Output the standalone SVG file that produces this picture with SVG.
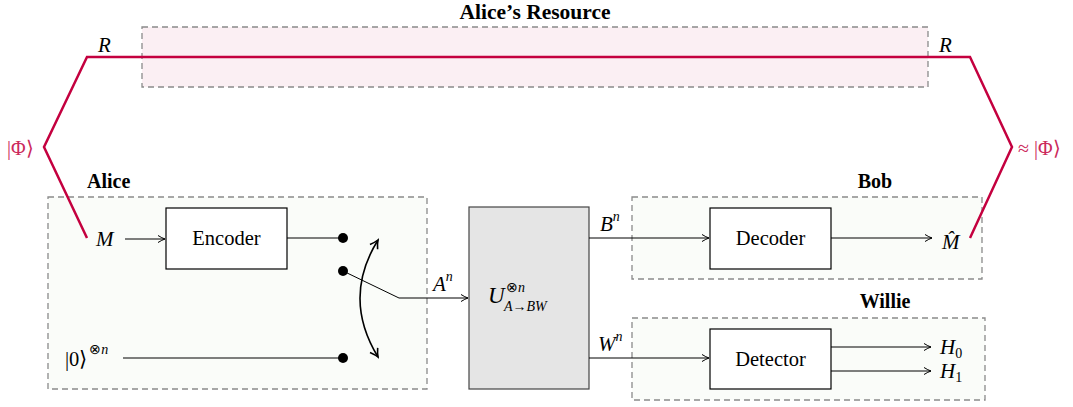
<svg xmlns="http://www.w3.org/2000/svg" width="1073" height="407" viewBox="0 0 1073 407" font-family="Liberation Serif, serif">
<style>
.reg{fill:#fafcf9;stroke:#8a8a8a;stroke-width:1.3;stroke-dasharray:6,4}
.res{fill:#fbeff3;stroke:#8a8a8a;stroke-width:1.3;stroke-dasharray:6,4}
.blk{fill:#fff;stroke:#000;stroke-width:1.2}
.uni{fill:#e5e5e5;stroke:#444;stroke-width:1.2}
.t{font-size:20.5px;fill:#000}
.b{font-size:20px;font-weight:bold;fill:#000}
.m{font-size:21px;font-style:italic;fill:#000}
.s{font-size:14px}
.up{font-style:normal}
.red{font-size:20px;fill:#cc2a5c}
.ln{fill:none;stroke:#000;stroke-width:1}
.ent{fill:none;stroke:#c4003f;stroke-width:2.5;stroke-linejoin:miter}
</style>
<defs>
<marker id="ar" viewBox="0 0 10 10" refX="9" refY="5" markerWidth="10" markerHeight="10" markerUnits="userSpaceOnUse" orient="auto">
<path d="M2,1.5 Q6,4 9,5 Q6,6 2,8.5" fill="none" stroke="#000" stroke-width="1"/>
</marker>
<marker id="ar2" viewBox="0 0 12 12" refX="10" refY="6" markerWidth="12" markerHeight="12" markerUnits="userSpaceOnUse" orient="auto-start-reverse">
<path d="M2,1.5 Q7,5 10,6 Q7,7 2,10.5" fill="none" stroke="#000" stroke-width="1.6"/>
</marker>
</defs>

<g id="alices-resource">
<rect class="res" x="142" y="27" width="786" height="60"/>
<text class="b" x="535" y="19" text-anchor="middle" style="font-size:21.5px">Alice’s Resource</text>
</g>

<g id="alice">
<rect class="reg" x="48" y="197" width="379" height="192"/>
<text class="b" x="87" y="188">Alice</text>
<text class="m" x="96" y="246">M</text>
<text class="t" x="65" y="366">|0⟩<tspan class="s" dx="2" dy="-12">⊗</tspan><tspan class="s" font-style="italic">n</tspan></text>
</g>

<g id="encoder">
<rect class="blk" x="166" y="208" width="121" height="61"/>
<text class="t" x="226.5" y="245" text-anchor="middle">Encoder</text>
</g>

<g id="switch">
<circle cx="343" cy="238" r="5" fill="#000"/>
<circle cx="343" cy="271" r="5" fill="#000"/>
<circle cx="343" cy="358" r="5" fill="#000"/>
</g>

<g id="unitary">
<rect class="uni" x="469" y="207" width="120" height="182"/>
<text class="m" x="488" y="303" style="font-size:23px">U</text>
<text class="s" x="506" y="292">⊗<tspan font-style="italic">n</tspan></text>
<text class="s" x="504" y="311" font-style="italic">A→BW</text>
</g>

<g id="bob">
<rect class="reg" x="632" y="197" width="350" height="82"/>
<text class="b" x="875" y="188" text-anchor="middle">Bob</text>
<text class="m" x="942" y="249">M̂</text>
</g>

<g id="decoder">
<rect class="blk" x="710" y="208" width="121" height="61"/>
<text class="t" x="770.5" y="245" text-anchor="middle">Decoder</text>
</g>

<g id="willie">
<rect class="reg" x="632" y="318" width="353" height="82"/>
<text class="b" x="885" y="308" text-anchor="middle">Willie</text>
<text class="m" x="940" y="354">H<tspan class="s up" dy="4">0</tspan></text>
<text class="m" x="940" y="378">H<tspan class="s up" dy="4">1</tspan></text>
</g>

<g id="detector">
<rect class="blk" x="710" y="329" width="121" height="60"/>
<text class="t" x="770.5" y="366" text-anchor="middle">Detector</text>
</g>

<g id="entanglement">
<polyline class="ent" points="87,238 44,147 87,57 970,57 1012,147 970,238"/>
<text class="m" x="98" y="52">R</text>
<text class="m" x="939" y="52">R</text>
<text class="red" x="7" y="155">|Φ⟩</text>
<text class="red" x="1018" y="155">≈ |Φ⟩</text>
</g>

<g id="connectors">
<line class="ln" x1="125" y1="239" x2="165" y2="239" marker-end="url(#ar)"/>
<line class="ln" x1="287" y1="238" x2="343" y2="238"/>
<line class="ln" x1="123" y1="358" x2="343" y2="358"/>
<polyline class="ln" points="343,271 399,298 468,298" marker-end="url(#ar)"/>
<text class="m" x="433" y="291">A<tspan class="s" dy="-10">n</tspan></text>
<path d="M378,240 Q342,298 378,357" fill="none" stroke="#000" stroke-width="1.6" marker-start="url(#ar2)" marker-end="url(#ar2)"/>
<line class="ln" x1="589" y1="238" x2="709" y2="238" marker-end="url(#ar)"/>
<text class="m" x="600" y="231">B<tspan class="s" dy="-10">n</tspan></text>
<line class="ln" x1="589" y1="358" x2="709" y2="358" marker-end="url(#ar)"/>
<text class="m" x="598" y="351">W<tspan class="s" dy="-10">n</tspan></text>
<line class="ln" x1="831" y1="238" x2="932" y2="238" marker-end="url(#ar)"/>
<line class="ln" x1="831" y1="347" x2="931" y2="347" marker-end="url(#ar)"/>
<line class="ln" x1="831" y1="371" x2="931" y2="371" marker-end="url(#ar)"/>
</g>
</svg>
